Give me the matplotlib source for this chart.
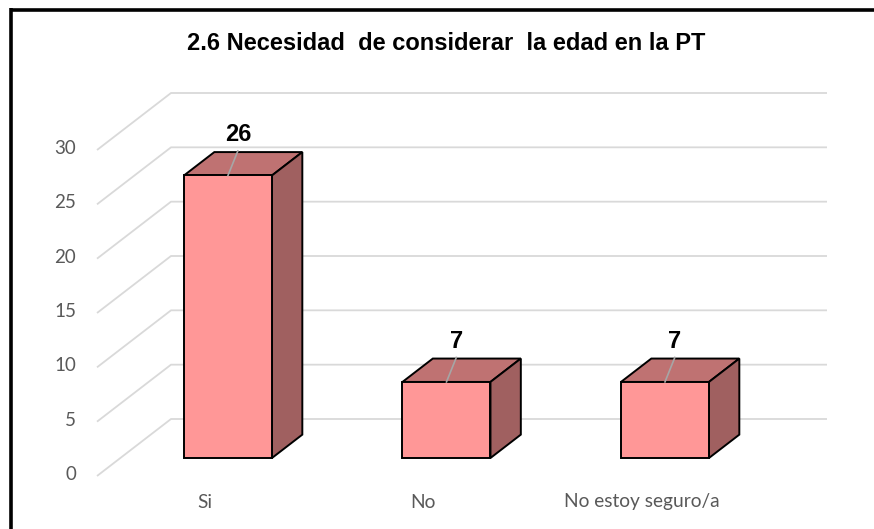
import matplotlib
matplotlib.use('Agg')
import matplotlib.pyplot as plt
from matplotlib.patches import Polygon
from matplotlib.lines import Line2D

categories = ['Si', 'No', 'No estoy seguro/a']
values = [26, 7, 7]
yticks = [0, 5, 10, 15, 20, 25, 30]
title = '2.6 Necesidad  de considerar  la edad en la PT'

FRONT = '#FF9797'
TOP = '#BF7272'
SIDE = '#A06060'
GRID = '#D9D9D9'
TXT = '#595959'

W, H = 874, 529
fig = plt.figure(figsize=(W / 100, H / 100), dpi=100)
ax = fig.add_axes([0, 0, 1, 1])
ax.set_axis_off()

# axis scales (pixel geometry of the 3D projection)
px_per_val = (476 - 150) / 30
px_per_cat = 218.5
x0px = 204.6
ax.set_xlim(-x0px / px_per_cat, (W - x0px) / px_per_cat)
ax.set_ylim(-(H - 476) / px_per_val, 476 / px_per_val)

DX = 74 / px_per_cat      # full depth offset in x units
DY = 57 / px_per_val      # full depth offset in value units
xl = (97 - x0px) / px_per_cat
xr = (827 - x0px) / px_per_cat

# gridlines: left wall diagonals + back wall horizontals
for v in yticks:
    ax.plot([xl, xl + DX, xr], [v, v + DY, v + DY], color=GRID, lw=1.3,
            solid_capstyle='butt', zorder=1)
    ax.text(xl - 21 / px_per_cat, v + 0.15, str(v), ha='right', va='center',
            fontsize=13.5, color=TXT, family=['Lato', 'DejaVu Sans'])

# bars
d0, d1 = 0.316, 0.726
dd = d1 - d0
bw = 88 / px_per_cat
xs = list(range(len(categories)))
bars = ax.bar([x + d0 * DX for x in xs], values, width=bw, bottom=d0 * DY,
              color=FRONT, edgecolor='black', linewidth=1.4, zorder=3)
for x, v in zip(xs, values):
    cx = x + d0 * DX
    xa, xb = cx - bw / 2, cx + bw / 2
    bot = d0 * DY
    top = bot + v
    ax.add_patch(Polygon([(xa, top), (xb, top), (xb + dd * DX, top + dd * DY),
                          (xa + dd * DX, top + dd * DY)], closed=True,
                         facecolor=TOP, edgecolor='black', lw=1.4, zorder=2))
    ax.add_patch(Polygon([(xb, bot), (xb, top), (xb + dd * DX, top + dd * DY),
                          (xb + dd * DX, bot + dd * DY)], closed=True,
                         facecolor=SIDE, edgecolor='black', lw=1.4, zorder=2))
    lx = cx + 0.045
    ax.plot([cx, lx], [top, top + dd * DY + 0.1], color='#A6A6A6', lw=1.2, zorder=4)
    ax.text(lx, top + dd * DY + 1.0, str(v), ha='center', va='baseline',
            fontsize=17, fontweight='bold', color='black',
            family=['Liberation Sans Narrow', 'Liberation Sans', 'DejaVu Sans'], zorder=5)

# category labels
for x, c in zip(xs, categories):
    ax.text(x, -(502 - 476) / px_per_val, c, ha='center', va='center',
            fontsize=13.8, color=TXT, family=['Lato', 'DejaVu Sans'])

# title
fig.text(446 / W, 1 - 50 / H, title, ha='center', va='baseline', fontsize=17,
         fontweight='bold', color='black',
         family=['Liberation Sans Narrow', 'Liberation Sans', 'DejaVu Sans'])

# frame (left and top edges of chart border)
fig.add_artist(Line2D([11 / W, 11 / W], [0, 1 - 8 / H], color='black', lw=2.6,
                      transform=fig.transFigure, solid_capstyle='butt'))
fig.add_artist(Line2D([9.5 / W, 1], [1 - 9.5 / H, 1 - 9.5 / H], color='black', lw=2.6,
                      transform=fig.transFigure, solid_capstyle='butt'))

fig.savefig('out.png', dpi=100)
